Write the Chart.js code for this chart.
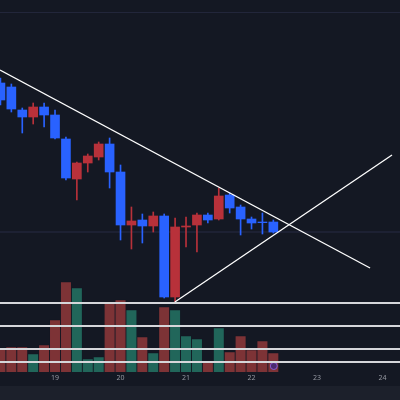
<!DOCTYPE html>
<html><head><meta charset="utf-8">
<script src="https://cdn.jsdelivr.net/npm/chart.js@4/dist/chart.umd.min.js"></script>
<style>html,body{margin:0;padding:0;background:#141823;overflow:hidden;}</style>
</head><body><canvas id="c" width="400" height="400" style="display:block;width:400px;height:400px"></canvas>
<script>
// candles k=-1..24, 4-hour steps; time in days
const startDay = 18.1667;
const opens  = [317,313,290,283,293,285,261,221,237,243,256,228,175,180,174,184,103,173,175,185,181,205,193,181,178,178];
const closes = [300,291,283,293,285,262,222,237,244,256,228,175,179,174,184,103,173,174,185,180,204,192,181,177,177.3,168];
const highs  = [322,316,292,297,297,290,263,238,246,258,262,235,193,186,188,186,182,183,187,187,212,207,195,183,187,180];
const lows   = [295,288,267,276,273,261,220,200,228,240,212,160,151,157,168,102,98,153,148,177,180,187,165,171,166,167];
const volumes = [24,25,25,18,27,52,90,84,13,15,70,72,62,35,19,65,62,36,33,10,44,20,36,22,31,19];
const volUp  = [0,0,0,1,0,0,0,1,1,1,0,0,1,0,1,0,1,1,1,0,1,0,0,0,0,0];
const tickLabels = ['19','20','21','22','23','24'];
const tickDays = [19,20,21,22,23,24];
const hLevels = [97,74,51,38];
const midLevel = 168;
const trend1 = [[18.16,330],[23.81,132]];
const trend2 = [[20.83,98],[24.145,245]];

const BLUE='#2962ff', RED='#b8313a';
const days = opens.map((_,i)=>startDay+i/6);
const cCol = opens.map((o,i)=>closes[i]>=o?RED:BLUE);
const bodies = days.map((d,i)=>({x:d,y:[opens[i],closes[i]]}));
const wicks = days.map((d,i)=>({x:d,y:[lows[i],highs[i]]}));
const vols = days.map((d,i)=>({x:d,y:volumes[i]}));
const vCol = volUp.map(u=>u?'rgba(38,128,110,0.75)':'rgba(160,60,62,0.75)');

const hl = v=>({type:'line',data:[{x:18,y:v},{x:24.5,y:v}],borderColor:'#d5d6da',borderWidth:2,pointRadius:0,yAxisID:'y',order:0});
const xaxisPlugin={id:'xa',beforeDraw(ch){const c=ch.ctx;c.save();c.fillStyle='#141823';c.fillRect(0,0,400,400);
 c.fillStyle='#1c202b';c.fillRect(0,386,400,14);c.strokeStyle='#22263a';c.lineWidth=1;c.beginPath();c.moveTo(0,12.5);c.lineTo(400,12.5);c.stroke();c.restore();},
 afterDraw(ch){const c=ch.ctx,x=ch.scales.x;c.save();c.fillStyle='#9598a1';c.font='7px "Noto Sans"';c.textAlign='center';c.textBaseline='middle';
 tickDays.forEach((d,i)=>c.fillText(tickLabels[i],x.getPixelForValue(d),378));c.restore();}};

new Chart(document.getElementById('c'),{
 type:'bar',
 data:{datasets:[
  {type:'line',data:[{x:18,y:midLevel},{x:24.5,y:midLevel}],borderColor:'#262b45',borderWidth:1,pointRadius:0,yAxisID:'y',order:5},
  {data:vols,backgroundColor:vCol,borderColor:'rgba(20,24,35,0.6)',borderWidth:0.5,barThickness:10.4,grouped:false,yAxisID:'y2',order:4},
  {data:wicks,backgroundColor:cCol,barThickness:1,grouped:false,yAxisID:'y',order:3},
  {data:bodies,backgroundColor:cCol,barThickness:9,grouped:false,yAxisID:'y',order:2},
  hl(hLevels[0]),hl(hLevels[1]),hl(hLevels[2]),hl(hLevels[3]),
  {type:'line',data:trend1.map(p=>({x:p[0],y:p[1]})),borderColor:'#ffffff',borderWidth:1.3,pointRadius:0,yAxisID:'y',order:0},
  {type:'line',data:trend2.map(p=>({x:p[0],y:p[1]})),borderColor:'#ffffff',borderWidth:1.3,pointRadius:0,yAxisID:'y',order:0},
  {type:'scatter',data:[{x:22.34,y:34}],pointRadius:3.5,backgroundColor:'#4a2a70',borderColor:'#8a5ad0',borderWidth:1,yAxisID:'y',order:0}
 ]},
 options:{responsive:false,animation:false,maintainAspectRatio:false,devicePixelRatio:1,
  layout:{padding:0,autoPadding:false},
  plugins:{legend:{display:false},tooltip:{enabled:false}},
  scales:{
   x:{type:'linear',min:18.16,max:24.267,offset:false,display:false},
   y:{min:0,max:400,display:false},
   y2:{min:-28,max:372,display:false}
  }},
 plugins:[xaxisPlugin]
});
</script></body></html>
